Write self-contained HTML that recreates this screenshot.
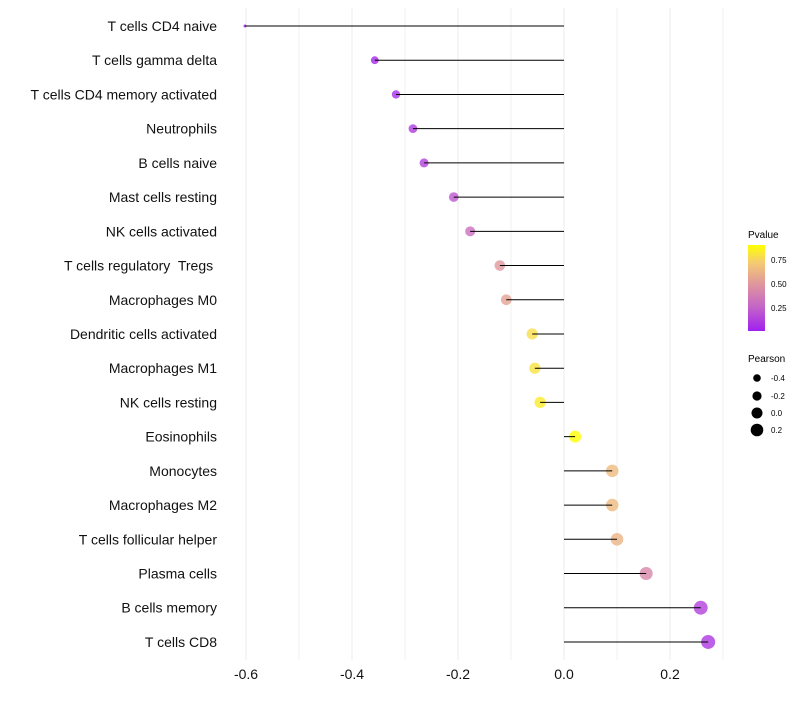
<!DOCTYPE html>
<html><head><meta charset="utf-8"><style>
body{margin:0;background:#fff;font-family:"Liberation Sans",sans-serif}
svg text{font-family:"Liberation Sans",sans-serif;white-space:pre}
</style></head><body>
<svg id="chart" width="800" height="700" xmlns="http://www.w3.org/2000/svg">
<g id="grid"></g>
<g id="marks"></g>
<g id="ylabels"></g>
<g id="xlabels"></g>
<g id="legend">
<defs><linearGradient id="pg" x1="0" y1="1" x2="0" y2="0">
<stop offset="0" stop-color="#a020f0"/><stop offset="0.28" stop-color="#c464c8"/><stop offset="0.55" stop-color="#e0979c"/><stop offset="0.8" stop-color="#f5cc70"/><stop offset="1" stop-color="#ffff00"/></linearGradient></defs>
<text x="748" y="238" font-size="10">Pvalue</text>
<rect x="748" y="245" width="17" height="86" fill="url(#pg)"/>
<text x="771" y="263" font-size="8">0.75</text>
<text x="771" y="287" font-size="8">0.50</text>
<text x="771" y="311" font-size="8">0.25</text>
<text x="748" y="362" font-size="10">Pearson</text>
<circle cx="757" cy="378" r="3.8"/>
<circle cx="757" cy="396" r="4.6"/>
<circle cx="757" cy="413" r="5.5"/>
<circle cx="757" cy="430" r="6.3"/>
<text x="771" y="381" font-size="8">-0.4</text>
<text x="771" y="399" font-size="8">-0.2</text>
<text x="771" y="416" font-size="8">0.0</text>
<text x="771" y="433" font-size="8">0.2</text>
</g>
</svg>
<script>
const categories=["T cells CD4 naive","T cells gamma delta","T cells CD4 memory activated","Neutrophils","B cells naive","Mast cells resting","NK cells activated","T cells regulatory  Tregs ","Macrophages M0","Dendritic cells activated","Macrophages M1","NK cells resting","Eosinophils","Monocytes","Macrophages M2","T cells follicular helper","Plasma cells","B cells memory","T cells CD8"];
const pearson=[-0.602,-0.357,-0.317,-0.285,-0.264,-0.208,-0.177,-0.121,-0.109,-0.060,-0.055,-0.045,0.021,0.091,0.091,0.100,0.155,0.258,0.272];
const pvalue=[0.01,0.03,0.05,0.10,0.12,0.20,0.30,0.50,0.55,0.78,0.80,0.83,0.90,0.65,0.65,0.62,0.42,0.12,0.09];
const xTicks=[-0.6,-0.4,-0.2,0.0,0.2];
const xTickLabels=["-0.6","-0.4","-0.2","0.0","0.2"];
const NS="http://www.w3.org/2000/svg";
const x=v=>564+v*530;
const y=i=>26+i*34.22;
function col(p){
 const st=[[0,[160,32,240]],[0.25,[196,100,200]],[0.5,[224,151,156]],[0.72,[245,204,112]],[0.9,[255,255,0]]];
 p=Math.max(0,Math.min(0.9,p));
 for(let k=1;k<st.length;k++){if(p<=st[k][0]){const a=st[k-1],b=st[k],t=(p-a[0])/(b[0]-a[0]);
  return "rgb("+a[1].map((c,j)=>Math.round(c+(b[1][j]-c)*t)).join(",")+")";}}
 return "rgb(255,255,0)";
}
const rad=v=>Math.sqrt(Math.max(1,2.25+(v+0.6)*53.7));
function mk(tag,attrs,parent){const e=document.createElementNS(NS,tag);for(const k in attrs)e.setAttribute(k,attrs[k]);document.getElementById(parent).appendChild(e);return e;}
const grid=[-0.6,-0.5,-0.4,-0.3,-0.2,-0.1,0,0.1,0.2,0.3];
grid.forEach(g=>{const l=mk("line",{x1:x(g),x2:x(g),y1:8,y2:660,stroke:"#ebebeb","stroke-width":(Math.round(g*10)%2===0)?1:0.7},"grid");

});
xTicks.forEach((t,i)=>{const e=mk("text",{x:x(t),y:679,"font-size":14,"text-anchor":"middle",fill:"#111"},"xlabels");e.textContent=xTickLabels[i];

});
categories.forEach((c,i)=>{
 const t=mk("text",{x:217,y:y(i)+5,"font-size":14,"text-anchor":"end",fill:"#111"},"ylabels");t.textContent=c;
 
 
 const v=pearson[i];
 const d=mk("circle",{cx:x(v),cy:y(i),r:rad(v),fill:col(pvalue[i]),"fill-opacity":0.8},"marks");
 
 
 const l=mk("line",{x1:x(0),x2:x(v),y1:y(i),y2:y(i),stroke:"#000","stroke-width":1},"marks");
 
 
});
</script>
</body></html>
